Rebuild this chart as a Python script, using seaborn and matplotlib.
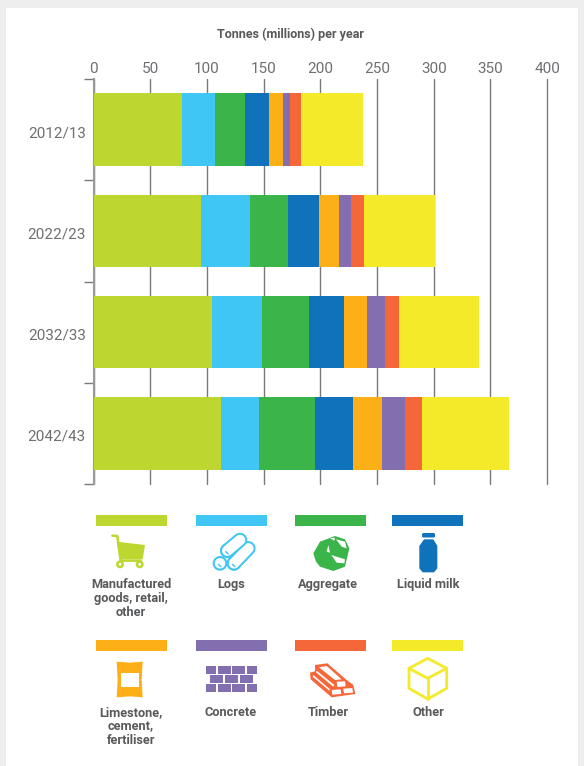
import matplotlib
matplotlib.use("Agg")
import matplotlib.pyplot as plt
from matplotlib.patches import Polygon, Circle, Rectangle, FancyBboxPatch
from matplotlib.transforms import ScaledTranslation
import numpy as np
import seaborn as sns

W, H = 584, 766
years = ["2012/13", "2022/23", "2032/33", "2042/43"]
categories = ["Manufactured\ngoods, retail,\nother", "Logs", "Aggregate", "Liquid milk",
              "Limestone,\ncement,\nfertiliser", "Concrete", "Timber", "Other"]
colors = ["#BED730", "#40C6F4", "#3BB54A", "#0F72BA", "#FCAF17", "#836EAF", "#F56738", "#F4EA2A"]
manufactured = [78, 95, 104.5, 112.5]
logs = [29, 43, 44, 33.5]
aggregate = [26.5, 33.5, 41.5, 49.5]
liquid_milk = [21.5, 27.5, 31, 33.5]
limestone = [12, 17.5, 20, 25.5]
concrete = [6.5, 10.5, 16, 20]
timber = [9.5, 11.5, 12.5, 15]
other = [54.5, 62.5, 70.5, 76.5]
series = [manufactured, logs, aggregate, liquid_milk, limestone, concrete, timber, other]
x_ticks = [0, 50, 100, 150, 200, 250, 300, 350, 400]

GREY = "#6E6F72"
TXT = "#58595B"
sns.set_theme(style="white")
plt.rcParams["font.family"] = ["Roboto", "DejaVu Sans"]

fig = plt.figure(figsize=(W / 100, H / 100), dpi=100, facecolor="#EEEEEE")
fig.patches.append(Rectangle((6 / W, 0), 572 / W, 1 - 8 / H, transform=fig.transFigure,
                             facecolor="white", edgecolor="none", zorder=-5))

ax = fig.add_axes([93.5 / W, 1 - 484 / H, 453.6 / W, 405 / H])
ax.patch.set_alpha(0)
cum = np.cumsum(np.array(series), axis=0)
for i in range(len(series) - 1, -1, -1):
    sns.barplot(x=cum[i], y=years, order=years, color=colors[i], saturation=1,
                width=0.715, orient="h", ax=ax, zorder=3, edgecolor="none", linewidth=0)
ax.set_xlim(0, 400)
ax.set_ylim(3.5, -0.5)
ax.set_xlabel("")
ax.set_ylabel("")
for s in ["top", "right", "bottom"]:
    ax.spines[s].set_visible(False)
ax.spines["left"].set_color("#9A9A9A")
ax.spines["left"].set_linewidth(1.5)
ax.spines["left"].set_zorder(2)
ax.xaxis.tick_top()
ax.set_xticks(x_ticks)
ax.set_xticklabels([str(t) for t in x_ticks], fontsize=11, color=GREY)
ax.tick_params(axis="x", length=0, pad=2.5)
ax.xaxis.grid(True, color="#7A7A7A", linewidth=1.0, zorder=0)
for gl in ax.get_xgridlines():
    gl.set_clip_on(False)
ax.set_axisbelow(True)
ax.set_yticks(range(len(years)))
ax.set_yticklabels(years, fontsize=11, color=GREY)
ax.tick_params(axis="y", length=0, pad=5.5)
shift = ScaledTranslation(0, -2 / 100, fig.dpi_scale_trans)
for lab in ax.get_yticklabels():
    lab.set_transform(lab.get_transform() + shift)
ax.set_yticks(np.arange(-0.5, 4, 1), minor=True)
ax.tick_params(axis="y", which="minor", length=7.5, width=1.0, color="#7A7A7A", left=True)

fig.text(290.5 / W, 1 - 34 / H, "Tonnes (millions) per year", ha="center", va="center",
         fontsize=9, fontweight="bold", color=TXT)

ov = fig.add_axes([0, 0, 1, 1], zorder=5)
ov.set_xlim(0, W)
ov.set_ylim(H, 0)
ov.axis("off")
ov.patch.set_alpha(0)

swatch_x = [96, 196, 295, 392]
label_x = [131, 231, 328, 428]
for row, (sy, ly) in enumerate([(515, 584.5), (640, 713)]):
    for col in range(4):
        k = row * 4 + col
        ov.add_patch(Rectangle((swatch_x[col], sy), 71, 11, color=colors[k], lw=0))
        ov.text(label_x[col], ly - 6.5, categories[k], ha="center", va="top", fontsize=9.2,
                fontweight="bold", color=TXT, linespacing=1.1)


def zp(ox, oy, pts):
    """zoom-crop coordinates (3x) to page pixels"""
    return [(ox + a / 3, oy + b / 3) for a, b in pts]


def poly(ox, oy, pts, fc, ec="none", lw=0, **kw):
    ov.add_patch(Polygon(zp(ox, oy, pts), closed=True, facecolor=fc, edgecolor=ec, linewidth=lw,
                         joinstyle="round", **kw))


def line(ox, oy, pts, c, lw, cap="round"):
    p = np.array(zp(ox, oy, pts))
    ov.plot(p[:, 0], p[:, 1], color=c, lw=lw, solid_capstyle=cap, solid_joinstyle="round")


# cart
c = colors[0]
poly(70, 500, [(140, 125), (225, 135), (218, 178), (150, 178)], c)
line(70, 500, [(127, 107), (142, 108), (152, 182), (212, 182)], c, 1.8)
for wx in (150, 209):
    ov.add_patch(Circle(zp(70, 500, [(wx, 193)])[0], 2.7, facecolor="white", edgecolor=c, lw=1.8))

# logs
c = colors[1]
for (a, b), (d, e) in [((492, 190), (535, 145)), ((472, 152), (510, 120))]:
    line(70, 500, [(a, b), (d, e)], c, 10.5)
    line(70, 500, [(a, b), (d, e)], "white", 7.6)
for cx, cy in [(472, 152), (492, 190), (450, 190)]:
    ov.add_patch(Circle(zp(70, 500, [(cx, cy)])[0], 6.3, facecolor="white", edgecolor=c, lw=1.5))
    line(70, 500, [(cx - 5, cy + 3), (cx + 3, cy + 10)], c, 1.0)

# aggregate
c = colors[2]
poly(300, 500, [(105, 108), (135, 118), (148, 145), (135, 200), (100, 213), (60, 200), (48, 185),
                (40, 160), (60, 125)], c)
poly(300, 500, [(108, 118), (135, 125), (140, 145), (125, 140)], "white")
poly(300, 500, [(94, 165), (135, 178), (133, 190), (110, 188)], "white")
poly(300, 500, [(85, 135), (90, 158), (80, 155)], "white")
poly(300, 500, [(90, 115), (105, 113), (103, 122)], "white")

# bottle
c = colors[3]
ov.add_patch(FancyBboxPatch((422, 533), 13, 4.5, boxstyle="round,pad=0,rounding_size=1.5", fc=c, ec="none"))
poly(300, 500, [(372, 118), (400, 118), (412, 138), (412, 205), (402, 217), (368, 217), (358, 205), (358, 138)], c)

# bag
c = colors[4]
poly(70, 630, [(140, 95), (180, 98), (218, 95), (215, 150), (218, 202), (180, 199), (140, 202), (143, 150)], c)
poly(70, 630, [(152, 128), (207, 128), (207, 170), (152, 170)], "white")

# bricks
c = colors[5]
r1 = [(408, 438), (444, 483), (486, 525), (531, 561)]
r2 = [(420, 459), (465, 504), (510, 549)]
for (y0, y1), bricks in [((108, 132), r1), ((135, 159), r2), ((162, 186), r1)]:
    for x0, x1 in bricks:
        poly(70, 630, [(x0, y0), (x1, y0), (x1, y1), (x0, y1)], c)

# timber
c = colors[6]
poly(300, 630, [(45, 105), (82, 100), (140, 150), (160, 165), (166, 192), (95, 202), (32, 148),
                (30, 128), (45, 124)], c)
for pts in [[(110, 155), (135, 154), (137, 169), (112, 171)],
            [(95, 180), (122, 178), (124, 192), (97, 194)],
            [(130, 176), (157, 174), (159, 188), (132, 190)],
            [(57, 112), (80, 108), (125, 148), (105, 150)],
            [(50, 122), (103, 165), (100, 170), (48, 127)],
            [(40, 135), (90, 178), (88, 182), (38, 140)]]:
    poly(300, 630, pts, "white")

# cube
c = colors[7]
hexa = [(383, 85), (440, 115), (440, 175), (383, 207), (327, 175), (327, 115)]
poly(300, 630, hexa, "none", ec=c, lw=2.0)
for end in [(327, 115), (440, 115), (383, 207)]:
    line(300, 630, [(383, 145), end], c, 2.0)

fig.savefig("out.png", dpi=100, facecolor=fig.get_facecolor())
